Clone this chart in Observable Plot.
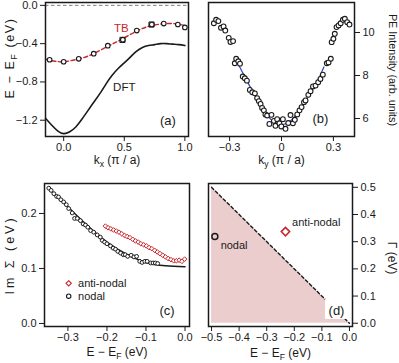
<!DOCTYPE html>
<html><head><meta charset="utf-8">
<script src="https://cdn.jsdelivr.net/npm/d3@7"></script>
<script src="https://cdn.jsdelivr.net/npm/@observablehq/plot@0.6"></script>
<style>
body{margin:0;background:#fff;}
#wrap{position:relative;width:399px;height:363px;overflow:hidden;background:#fff;}
</style></head><body><div id="wrap"></div>
<script>
// ---------- Panel (a) data ----------
const dftK = [-0.15,-0.1,-0.05,0,0.05,0.1,0.15,0.2,0.25,0.3,0.35,0.4,0.45,0.5,0.55,0.6,0.65,0.7,0.75,0.8,0.85,0.9,0.95,1.0];
const dftE = [-1.18,-1.25,-1.31,-1.34,-1.32,-1.27,-1.19,-1.10,-1.01,-0.92,-0.82,-0.73,-0.66,-0.60,-0.54,-0.48,-0.44,-0.42,-0.41,-0.40,-0.40,-0.405,-0.41,-0.42];
const tbK = [-0.15,-0.1,-0.05,0,0.1,0.2,0.3,0.4,0.5,0.6,0.7,0.8,0.9,1.0];
const tbE = [-0.563,-0.578,-0.587,-0.59,-0.567,-0.53,-0.47,-0.405,-0.34,-0.27,-0.22,-0.195,-0.19,-0.21];
const expK = [-0.116,0,0.124,0.248,0.364,0.488,0.603,0.727,0.826,0.942,1.0];
const expE = [-0.568,-0.589,-0.558,-0.505,-0.421,-0.358,-0.263,-0.2,-0.19,-0.2,-0.23];
const sqK = [0.485,0.725];
const sqE = [-0.361,-0.2];
// ---------- Panel (b) data ----------
const kyB = [-0.391,-0.378,-0.365,-0.35,-0.335,-0.325,-0.305,-0.295,-0.28,-0.27,-0.262,-0.25,-0.24,-0.224,-0.212,-0.2,-0.183,-0.169,-0.154,-0.141,-0.131,-0.121,-0.112,-0.102,-0.093,-0.083,-0.07,-0.058,-0.044,-0.035,-0.025,-0.012,-0.001,0.008,0.023,0.039,0.052,0.066,0.077,0.091,0.104,0.116,0.13,0.139,0.155,0.168,0.182,0.197,0.212,0.225,0.239,0.262,0.272,0.285,0.29,0.30,0.308,0.318,0.33,0.342,0.355,0.366,0.38,0.393];
const intB = [10.43,10.59,10.53,10.22,10.28,10.09,9.75,9.56,9.6,8.57,8.78,8.66,8.55,7.95,7.87,7.76,7.33,7.22,7.17,6.95,6.81,6.68,6.49,6.38,6.19,6.14,5.75,6.17,5.89,5.66,5.97,5.78,5.63,5.97,5.52,5.79,6.16,5.78,5.94,6.19,6.38,6.53,6.76,6.84,7.1,7.27,7.49,7.53,7.69,7.84,8.04,8.57,8.61,8.78,9.55,9.71,9.94,10.25,10.33,10.43,10.59,10.64,10.48,10.37];
const fitKy = [-0.245,-0.2,-0.15,-0.1,-0.06,-0.03,0,0.03,0.06,0.1,0.15,0.2,0.245];
const fitI = [8.45,7.75,7.02,6.33,5.95,5.78,5.72,5.78,5.95,6.33,7.0,7.62,8.4];
// ---------- Panel (c) data ----------
const nodE = [-0.349,-0.343,-0.336,-0.329,-0.324,-0.318,-0.311,-0.304,-0.298,-0.289,-0.283,-0.276,-0.268,-0.261,-0.255,-0.249,-0.242,-0.234,-0.225,-0.217,-0.212,-0.206,-0.2,-0.191,-0.184,-0.178,-0.172,-0.165,-0.158,-0.153,-0.147,-0.138,-0.131,-0.124,-0.116,-0.11,-0.103,-0.097,-0.088,-0.082,-0.076,-0.07];
const nodS = [0.246,0.242,0.236,0.231,0.23,0.225,0.221,0.216,0.209,0.201,0.191,0.191,0.187,0.181,0.179,0.175,0.169,0.166,0.161,0.157,0.151,0.148,0.145,0.141,0.137,0.135,0.131,0.128,0.125,0.125,0.122,0.124,0.121,0.122,0.113,0.111,0.113,0.113,0.11,0.11,0.11,0.109];
const antE = [-0.204,-0.197,-0.19,-0.183,-0.176,-0.169,-0.162,-0.155,-0.148,-0.141,-0.134,-0.127,-0.12,-0.113,-0.106,-0.099,-0.092,-0.085,-0.078,-0.071,-0.064,-0.057,-0.05,-0.043,-0.036,-0.029,-0.022,-0.015,-0.008,-0.001];
const antS = [0.177,0.174,0.172,0.17,0.168,0.166,0.163,0.16,0.158,0.156,0.153,0.15,0.148,0.145,0.143,0.141,0.138,0.136,0.133,0.13,0.127,0.124,0.121,0.118,0.116,0.114,0.114,0.115,0.113,0.117];
const fitE = [-0.35,-0.3,-0.25,-0.2,-0.15,-0.1,-0.05,0];
const fitS = [0.246,0.212,0.178,0.148,0.126,0.111,0.105,0.103];
// ---------- Panel (d) data ----------
const limE = [-0.5,0];
const limG = [0.5,0];
const ptLabels = ["nodal","anti-nodal"];
const ptE = [-0.488,-0.232];
const ptG = [0.319,0.337];

// ---------- helpers ----------
const zip = (xs, ys) => xs.map((x, i) => ({x, y: ys[i]}));
const FONT = '"Liberation Sans", Arial, Helvetica, sans-serif';
const RED = "#c8242b";
const INK = "#1a1a1a";
const PINK = "#ebcdcd";
const wrap = document.getElementById("wrap");
const NS = "http://www.w3.org/2000/svg";
function subscripts(svg) {
  svg.querySelectorAll("text").forEach(t => {
    const m = t.textContent.match(/^(.*)_(\w)(.*)$/);
    if (!m) return;
    while (t.firstChild) t.removeChild(t.firstChild);
    const a = document.createElementNS(NS, "tspan"); a.textContent = m[1];
    const b = document.createElementNS(NS, "tspan"); b.textContent = m[2];
    b.setAttribute("font-size", "0.72em"); b.setAttribute("dy", "3");
    const c = document.createElementNS(NS, "tspan"); c.textContent = m[3]; c.setAttribute("dy", "-3");
    t.append(a, b, c);
  });
}
// vertical axis titles: pin the rotation on the text element itself
function vertical(svg, prefix, x, y, angle, spacing) {
  svg.querySelectorAll("text").forEach(t => {
    if (!t.textContent.startsWith(prefix)) return;
    t.parentNode.removeAttribute("transform");
    t.setAttribute("transform", `translate(${x},${y}) rotate(${angle})`);
    t.setAttribute("text-anchor", "middle");
    if (spacing) t.setAttribute("letter-spacing", spacing);
  });
}
function place(svg, left, top, labels) {
  svg.style.position = "absolute";
  svg.style.left = left + "px";
  svg.style.top = top + "px";
  subscripts(svg);
  (labels || []).forEach(l => vertical(svg, ...l));
  wrap.append(svg);
}
const style = {fontFamily: FONT, fontSize: "11px", background: "transparent", color: INK, overflow: "visible"};
const fmt1 = d3.format(".1f");

// ---------- (a) ----------
place(Plot.plot({
  width: 200, height: 175, marginLeft: 45, marginRight: 12, marginTop: 2, marginBottom: 39,
  style,
  x: {domain: [-0.15, 1.03]},
  y: {domain: [-1.37, 0.03]},
  marks: [
    Plot.ruleY([0], {stroke: "#808080", strokeDasharray: "3.5,2.5", strokeWidth: 1}),
    Plot.line(zip(dftK, dftE), {x: "x", y: "y", curve: "natural", stroke: INK, strokeWidth: 1.6}),
    Plot.line(zip(tbK, tbE), {x: "x", y: "y", curve: "natural", stroke: RED, strokeWidth: 1.4, strokeDasharray: "4,2.5"}),
    Plot.dot(zip(sqK, sqE), {x: "x", y: "y", symbol: "square", r: 2.9, stroke: INK, strokeWidth: 1}),
    Plot.dot(zip(expK, expE), {x: "x", y: "y", r: 2.3, stroke: INK, fill: "white", strokeWidth: 1.1}),
    Plot.text(["TB"], {x: 0.475, y: -0.237, fill: RED, fontSize: 11.5}),
    Plot.text(["DFT"], {x: 0.5, y: -0.853, fontSize: 11.5}),
    Plot.text(["(a)"], {x: 0.86, y: -1.21, fontSize: 13}),
    Plot.frame({stroke: INK, strokeWidth: 1.5}),
    Plot.axisX({ticks: [0, 0.5, 1], tickFormat: fmt1, tickSize: 5, tickPadding: 2, label: null}),
    Plot.axisY({ticks: [0, -0.4, -0.8, -1.2], tickFormat: fmt1, tickSize: 5, tickPadding: 3, label: null}),
    Plot.text(["k_x (π / a)"], {frameAnchor: "bottom", dy: 27, fontSize: 12}),
    Plot.text(["E − E_F (eV)"], {frameAnchor: "left", rotate: -90, fontSize: 12.5})
  ]
}), 0, 0, [["E − E", 10, 58, -90, "1.6px"]]);

// ---------- (b) ----------
place(Plot.plot({
  width: 204, height: 175, marginLeft: 13, marginRight: 45, marginTop: 2, marginBottom: 39,
  style,
  x: {domain: [-0.422, 0.422]},
  y: {domain: [5.163, 11.395]},
  marks: [
    Plot.line(zip(fitKy, fitI), {x: "x", y: "y", curve: "natural", stroke: "#2a3fd8", strokeWidth: 1.2}),
    Plot.dot(zip(kyB, intB), {x: "x", y: "y", r: 2.4, stroke: INK, fill: "white", strokeWidth: 1.1}),
    Plot.text(["(b)"], {x: 0.225, y: 6.0, fontSize: 13}),
    Plot.frame({stroke: INK, strokeWidth: 1.5}),
    Plot.axisX({ticks: [-0.3, 0, 0.3], tickFormat: d => d === 0 ? "0" : fmt1(d), tickSize: 5, tickPadding: 2, label: null}),
    Plot.axisY({anchor: "right", ticks: [6, 8, 10], tickFormat: d3.format("d"), tickSize: 5, tickPadding: 3, label: null}),
    Plot.text(["k_y (π / a)"], {frameAnchor: "bottom", dy: 27, fontSize: 12}),
    Plot.text(["PE Intensity (arb. units)"], {frameAnchor: "right", rotate: 90, fontSize: 10.8})
  ]
}), 195, 0, [["PE Intensity", 197, 70, 90]]);

// ---------- (c) ----------
place(Plot.plot({
  width: 200, height: 188, marginLeft: 44, marginRight: 11, marginTop: 8, marginBottom: 37,
  style,
  x: {domain: [-0.36, 0.0115]},
  y: {domain: [-0.0055, 0.2545]},
  marks: [
    Plot.line(zip(fitE, fitS), {x: "x", y: "y", curve: "natural", stroke: INK, strokeWidth: 1.5}),
    Plot.dot(zip(nodE, nodS), {x: "x", y: "y", r: 1.9, stroke: INK, fill: "white", strokeWidth: 1}),
    Plot.dot(zip(antE, antS), {x: "x", y: "y", symbol: "diamond2", r: 2.1, stroke: RED, fill: "white", strokeWidth: 1}),
    Plot.dot([0], {x: -0.298, y: 0.073, symbol: "diamond2", r: 2.4, stroke: RED, strokeWidth: 1.1}),
    Plot.dot([0], {x: -0.298, y: 0.0496, r: 2.2, stroke: INK, strokeWidth: 1.1}),
    Plot.text(["anti-nodal"], {x: -0.274, y: 0.073, textAnchor: "start", fontSize: 11}),
    Plot.text(["nodal"], {x: -0.274, y: 0.0496, textAnchor: "start", fontSize: 11}),
    Plot.text(["(c)"], {x: -0.046, y: 0.0236, fontSize: 13}),
    Plot.frame({stroke: INK, strokeWidth: 1.5}),
    Plot.axisX({ticks: [-0.3, -0.2, -0.1, 0], tickFormat: fmt1, tickSize: 5, tickPadding: 2, label: null}),
    Plot.axisY({ticks: [0, 0.1, 0.2], tickFormat: fmt1, tickSize: 5, tickPadding: 3, label: null}),
    Plot.text(["E − E_F (eV)"], {frameAnchor: "bottom", dy: 29, fontSize: 12}),
    Plot.text(["Im Σ (eV)"], {frameAnchor: "left", rotate: -90, fontSize: 12.5})
  ]
}), 0, 175, [["Im Σ", 10, 80, -90, "3px"]]);

// ---------- (d) ----------
place(Plot.plot({
  width: 204, height: 188, marginLeft: 13, marginRight: 47, marginTop: 8, marginBottom: 37,
  style,
  x: {domain: [-0.511, 0.011]},
  y: {domain: [-0.012, 0.514]},
  marks: [
    Plot.areaY(zip(limE, limG), {x: "x", y: "y", fill: PINK}),
    Plot.line(zip(limE, limG), {x: "x", y: "y", stroke: INK, strokeWidth: 1.4, strokeDasharray: "3,2.5"}),
    Plot.rect([0], {x1: -0.087, x2: -0.007, y1: 0.014, y2: 0.087, fill: "white"}),
    Plot.text(["(d)"], {x: -0.047, y: 0.047, fontSize: 13}),
    Plot.dot([ptE[0]], {x: d => d, y: () => ptG[0], r: 3, stroke: INK, strokeWidth: 1.5}),
    Plot.dot([ptE[1]], {x: d => d, y: () => ptG[1], symbol: "diamond2", r: 3.8, stroke: RED, strokeWidth: 1.5}),
    Plot.text([ptLabels[0]], {x: -0.467, y: 0.286, textAnchor: "start", fontSize: 11}),
    Plot.text([ptLabels[1]], {x: -0.208, y: 0.370, textAnchor: "start", fontSize: 11}),
    Plot.frame({stroke: INK, strokeWidth: 1.5}),
    Plot.axisX({ticks: [-0.5, -0.4, -0.3, -0.2, -0.1, 0], tickFormat: fmt1, tickSize: 5, tickPadding: 2, label: null}),
    Plot.axisY({anchor: "right", ticks: [0, 0.1, 0.2, 0.3, 0.4, 0.5], tickFormat: fmt1, tickSize: 5, tickPadding: 3, label: null}),
    Plot.text(["E − E_F (eV)"], {frameAnchor: "bottom", dy: 30, fontSize: 12}),
    Plot.text(["Γ (eV)"], {frameAnchor: "right", rotate: 90, fontSize: 12})
  ]
}), 195, 175, [["Γ (eV)", 197, 83, 90]]);
</script>
</body></html>
